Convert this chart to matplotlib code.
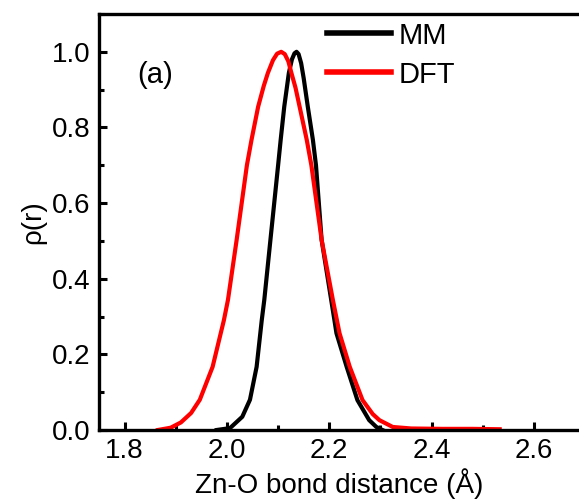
import numpy as np
import matplotlib
matplotlib.use("Agg")
import matplotlib.pyplot as plt
from matplotlib.ticker import MultipleLocator, FormatStrFormatter

plt.rcParams['font.family'] = ['Liberation Sans', 'DejaVu Sans']

# Daten
r_mm = np.array([1.980, 2.006, 2.030, 2.045, 2.058, 2.068, 2.073, 2.085, 2.100, 2.105,
                 2.112, 2.121, 2.127, 2.132, 2.136, 2.140, 2.145, 2.150, 2.158, 2.168,
                 2.174, 2.185, 2.210, 2.214, 2.234, 2.255, 2.278, 2.292, 2.304])
rho_mm = np.array([0.000, 0.005, 0.035, 0.080, 0.167, 0.290, 0.344, 0.503, 0.700, 0.767,
                   0.855, 0.944, 0.980, 0.996, 1.000, 0.994, 0.970, 0.930, 0.855, 0.767,
                   0.700, 0.503, 0.291, 0.256, 0.167, 0.079, 0.026, 0.008, 0.000])

r_dft = np.array([1.865, 1.890, 1.910, 1.930, 1.947, 1.972, 1.994, 2.002, 2.019, 2.039,
                  2.048, 2.061, 2.072, 2.080, 2.090, 2.098, 2.106, 2.113, 2.120, 2.126,
                  2.134, 2.142, 2.156, 2.165, 2.185, 2.207, 2.220, 2.240, 2.265, 2.285,
                  2.298, 2.324, 2.360, 2.420, 2.480, 2.533])
rho_dft = np.array([0.000, 0.006, 0.020, 0.045, 0.080, 0.167, 0.290, 0.344, 0.503, 0.700,
                    0.767, 0.855, 0.910, 0.944, 0.978, 0.995, 1.000, 0.994, 0.975, 0.944,
                    0.905, 0.855, 0.767, 0.700, 0.503, 0.344, 0.256, 0.167, 0.079, 0.042,
                    0.026, 0.008, 0.004, 0.003, 0.003, 0.002])

fig = plt.figure(figsize=(5.79, 5.0), dpi=100)
ax = fig.add_axes([0.171, 0.14, 0.829, 0.832])

ax.plot(r_mm, rho_mm, color='black', lw=3.0, label='MM')
ax.plot(r_dft, rho_dft, color='red', lw=3.0, label='DFT')

ax.set_xlim(1.75, 2.688)
ax.set_ylim(0, 1.1)
ax.xaxis.set_major_locator(MultipleLocator(0.2))
ax.xaxis.set_minor_locator(MultipleLocator(0.1))
ax.yaxis.set_major_locator(MultipleLocator(0.2))
ax.yaxis.set_minor_locator(MultipleLocator(0.1))
ax.xaxis.set_major_formatter(FormatStrFormatter('%.1f'))
ax.yaxis.set_major_formatter(FormatStrFormatter('%.1f'))

ax.tick_params(which='both', direction='in', width=2.2, top=False, right=False, labelsize=20)
ax.tick_params(which='major', length=6)
ax.tick_params(which='minor', length=3.5)
ax.tick_params(axis='x', pad=6)
ax.tick_params(axis='y', pad=6)
for s in ['left', 'bottom', 'top']:
    ax.spines[s].set_linewidth(2.4)
ax.spines['right'].set_visible(False)

ax.set_xlabel('Zn-O bond distance (Å)', fontsize=20, labelpad=3)
ax.set_ylabel('ρ(r)', fontsize=20, labelpad=4)
ax.text(1.859, 0.94, '(a)', fontsize=21, ha='center', va='center')

leg = ax.legend(loc='upper left', bbox_to_anchor=(0.42, 1.045), frameon=False,
                fontsize=21, handlelength=2.2, handletextpad=0.25, labelspacing=0.38)
for h in leg.get_lines():
    h.set_linewidth(4.0)

fig.savefig('out.png', dpi=100)
